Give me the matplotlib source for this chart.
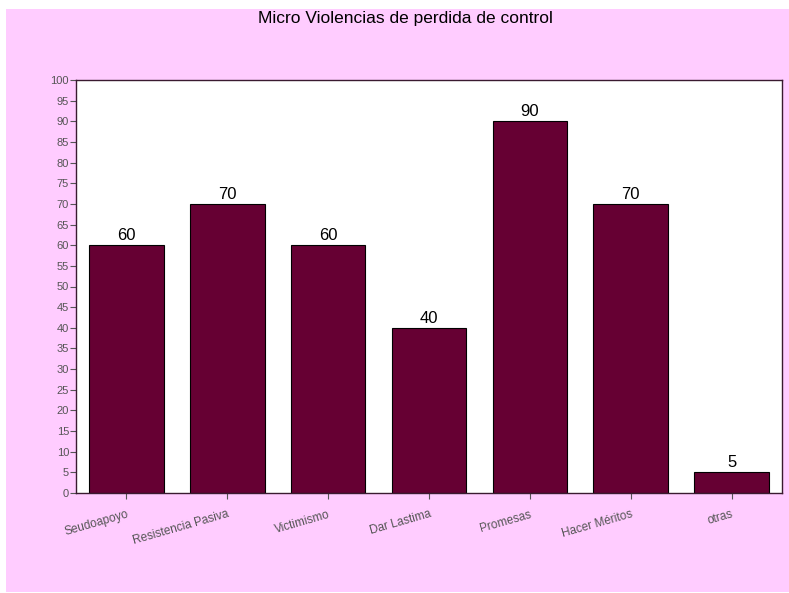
import matplotlib.pyplot as plt
from matplotlib.patches import Rectangle

categories = ["Seudoapoyo", "Resistencia Pasiva", "Victimismo", "Dar Lastima",
              "Promesas", "Hacer Méritos", "otras"]
values = [60, 70, 60, 40, 90, 70, 5]

plt.rcParams['font.family'] = ['Liberation Sans', 'DejaVu Sans']

fig = plt.figure(figsize=(7.89, 5.93), dpi=100, facecolor="white")
fig.patches.append(Rectangle((6 / 789, 1 / 593), 1, (593 - 10) / 593,
                             transform=fig.transFigure, facecolor="#ffccff",
                             edgecolor="none", zorder=-10))

ax = fig.add_axes([76 / 789, 100 / 593, 706 / 789, 413 / 593])
ax.set_facecolor("white")

x = range(len(categories))
bars = ax.bar(x, values, width=0.74, color="#660033", edgecolor="black", linewidth=0.8)

for xi, v in zip(x, values):
    ax.text(xi, v + 0.5, str(v), ha="center", va="bottom", fontsize=12, color="black")

ax.set_xlim(-0.5, 6.5)
ax.set_ylim(0, 100)
ax.set_yticks(range(0, 101, 5))
ax.set_xticks(list(x))
ax.set_xticklabels(categories, rotation=16, ha="right", rotation_mode="anchor",
                   fontsize=8.5, color="#555555")
ax.tick_params(axis="y", labelsize=8, labelcolor="#555555", length=4, color="#555555", pad=1)
ax.tick_params(axis="x", length=4, color="#555555", pad=7)

for s in ax.spines.values():
    s.set_color("#3a1a30")
    s.set_linewidth(1)

fig.text(405 / 789, 1 - 19 / 593, "Micro Violencias de perdida de control",
         ha="center", va="center", fontsize=12.5, color="black")

fig.savefig("out.png", dpi=100, facecolor=fig.get_facecolor())
